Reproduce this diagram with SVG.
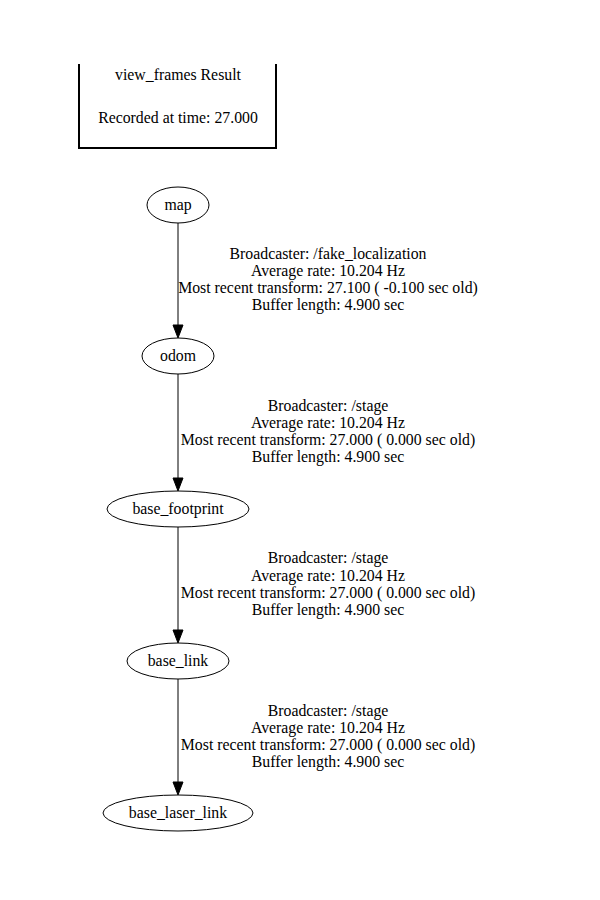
<svg xmlns="http://www.w3.org/2000/svg" width="600" height="900" viewBox="0 0 600 900">
<style>
text{font-family:"Liberation Serif","Times New Roman",serif;font-size:15.8px;fill:#000;text-anchor:middle}
.node ellipse{fill:none;stroke:#000;stroke-width:1}
.edge line{stroke:#000;stroke-width:1}
.edge polygon{fill:#000;stroke:#000;stroke-width:1}
</style>
<defs>
<clipPath id="clip"><rect x="0" y="64" width="600" height="768"/></clipPath>
</defs>
<rect width="600" height="900" fill="#fff"/>
<g clip-path="url(#clip)">
<g id="legend">
<path d="M79,60 V148 H276 V60" fill="none" stroke="#000" stroke-width="2"/>
<text x="178" y="80">view_frames Result</text>
<text x="178" y="123">Recorded at time: 27.000</text>
</g>
<g id="edges" class="edge">
<line x1="178" y1="223" x2="178" y2="326"/>
<polygon points="173,325 183,325 178,338"/>
<text x="328" y="259">Broadcaster: /fake_localization</text>
<text x="328" y="276">Average rate: 10.204 Hz</text>
<text x="328" y="293">Most recent transform: 27.100 ( -0.100 sec old)</text>
<text x="328" y="310">Buffer length: 4.900 sec</text>
<line x1="178" y1="374" x2="178" y2="479"/>
<polygon points="173,478 183,478 178,491"/>
<text x="328" y="411">Broadcaster: /stage</text>
<text x="328" y="428">Average rate: 10.204 Hz</text>
<text x="328" y="445">Most recent transform: 27.000 ( 0.000 sec old)</text>
<text x="328" y="462">Buffer length: 4.900 sec</text>
<line x1="178" y1="527" x2="178" y2="631"/>
<polygon points="173,630 183,630 178,643"/>
<text x="328" y="563">Broadcaster: /stage</text>
<text x="328" y="581">Average rate: 10.204 Hz</text>
<text x="328" y="598">Most recent transform: 27.000 ( 0.000 sec old)</text>
<text x="328" y="615">Buffer length: 4.900 sec</text>
<line x1="178" y1="679" x2="178" y2="783"/>
<polygon points="173,782 183,782 178,795"/>
<text x="328" y="716">Broadcaster: /stage</text>
<text x="328" y="733">Average rate: 10.204 Hz</text>
<text x="328" y="750">Most recent transform: 27.000 ( 0.000 sec old)</text>
<text x="328" y="767">Buffer length: 4.900 sec</text>
</g>
<g id="map" class="node"><ellipse cx="178" cy="205" rx="31" ry="18"/><text x="178" y="210">map</text></g>
<g id="odom" class="node"><ellipse cx="178" cy="356" rx="36" ry="18"/><text x="178" y="361">odom</text></g>
<g id="base_footprint" class="node"><ellipse cx="178" cy="509" rx="71" ry="18"/><text x="178" y="514">base_footprint</text></g>
<g id="base_link" class="node"><ellipse cx="178" cy="661" rx="51" ry="18"/><text x="178" y="666">base_link</text></g>
<g id="base_laser_link" class="node"><ellipse cx="178" cy="813" rx="75" ry="18"/><text x="178" y="818">base_laser_link</text></g>
</g>
</svg>
